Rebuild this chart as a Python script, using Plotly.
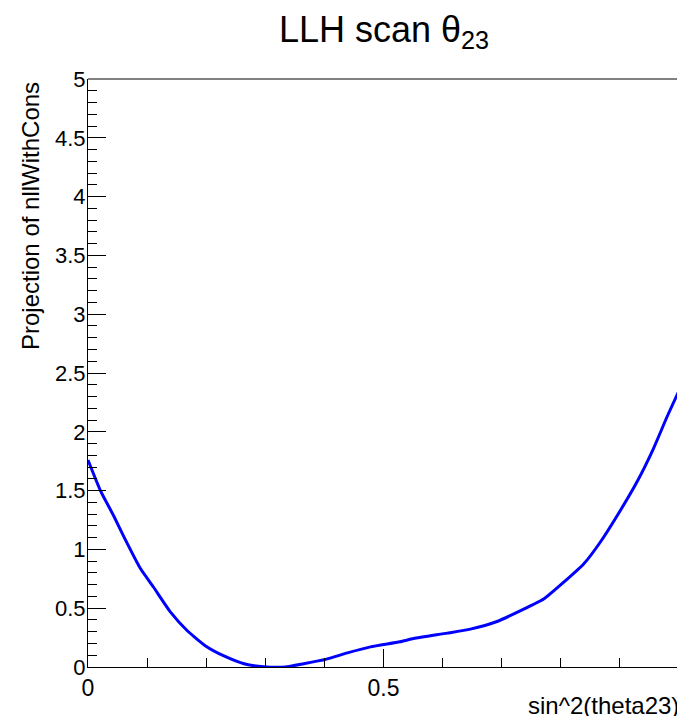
import plotly.graph_objects as go

# sin^2(theta23) scan points and projected NLL values
sin2_theta23 = [0.0, 0.021, 0.044, 0.061, 0.089, 0.111, 0.14, 0.168, 0.199, 0.23,
                0.264, 0.297, 0.334, 0.365, 0.402, 0.439, 0.478, 0.528, 0.551, 0.608,
                0.647, 0.692, 0.732, 0.771, 0.805, 0.839, 0.867, 0.901, 0.929, 0.957,
                0.98, 1.0]
nll_with_cons = [1.76, 1.50, 1.28, 1.105, 0.835, 0.678, 0.464, 0.308, 0.179, 0.094,
                 0.028, 0.002, 0.0, 0.028, 0.065, 0.12, 0.171, 0.214, 0.242, 0.288,
                 0.322, 0.387, 0.479, 0.578, 0.721, 0.878, 1.063, 1.333, 1.575, 1.86,
                 2.13, 2.35]

x_ticks = [0, 0.5, 1]
x_tick_labels = ["0", "0.5", "1"]
y_ticks = [0, 0.5, 1, 1.5, 2, 2.5, 3, 3.5, 4, 4.5, 5]
y_tick_labels = ["0", "0.5", "1", "1.5", "2", "2.5", "3", "3.5", "4", "4.5", "5"]

FONT = "Liberation Sans, Arial, Helvetica, sans-serif"

fig = go.Figure()
fig.add_trace(go.Scatter(
    x=sin2_theta23, y=nll_with_cons, mode="lines",
    line=dict(color="#0000ff", width=3, shape="spline", smoothing=0.5),
    showlegend=False, hoverinfo="skip",
))

W, H = 677, 716
L, R, T, B = 88, 0, 79, 49
plot_w = W - L - R
plot_h = H - T - B
px_per_unit_x = 591.0

fig.update_layout(
    width=W, height=H,
    margin=dict(l=L, r=R, t=T, b=B, pad=0),
    paper_bgcolor="white", plot_bgcolor="white",
    font=dict(family=FONT, color="black", size=22),
    title=dict(
        text="LLH scan θ<sub>23</sub>",
        font=dict(family=FONT, size=36, color="black"),
        x=384 / W, xanchor="center", xref="container",
        y=1 - 29 / H, yanchor="middle", yref="container",
    ),
    xaxis=dict(
        range=[0, plot_w / px_per_unit_x],
        showgrid=False, zeroline=False,
        showline=True, linecolor="black", linewidth=1,
        ticks="inside", ticklen=18, tickwidth=1, tickcolor="black",
        tickvals=x_ticks, ticktext=x_tick_labels,
        tickfont=dict(family=FONT, size=23, color="black"),
        minor=dict(dtick=0.1, tick0=0, ticks="inside", ticklen=9, tickwidth=1, tickcolor="black"),
        fixedrange=True,
    ),
    yaxis=dict(
        range=[0, 5],
        showgrid=False, zeroline=False,
        showline=True, linecolor="black", linewidth=1,
        ticks="inside", ticklen=18, tickwidth=1, tickcolor="black",
        tickvals=y_ticks, ticktext=y_tick_labels,
        tickfont=dict(family=FONT, size=22, color="black"),
        ticklabelstandoff=-3,
        minor=dict(dtick=0.1, tick0=0, ticks="inside", ticklen=9, tickwidth=1, tickcolor="black"),
        fixedrange=True,
    ),
    shapes=[dict(type="line", xref="paper", yref="paper", x0=0, x1=1, y0=1, y1=1,
                 line=dict(color="#808080", width=2))],
    annotations=[
        dict(text="Projection of nllWithCons", textangle=-90,
             xref="paper", yref="paper", x=(30 - L) / plot_w, y=(667 - 216) / plot_h,
             xanchor="center", yanchor="middle", showarrow=False,
             font=dict(family=FONT, size=24, color="black")),
        dict(text="sin^2(theta23)",
             xref="paper", yref="paper", x=(681 - L) / plot_w, y=(667 - 705) / plot_h,
             xanchor="right", yanchor="middle", showarrow=False,
             font=dict(family=FONT, size=24, color="black")),
    ],
)

fig.write_html("out.html")
